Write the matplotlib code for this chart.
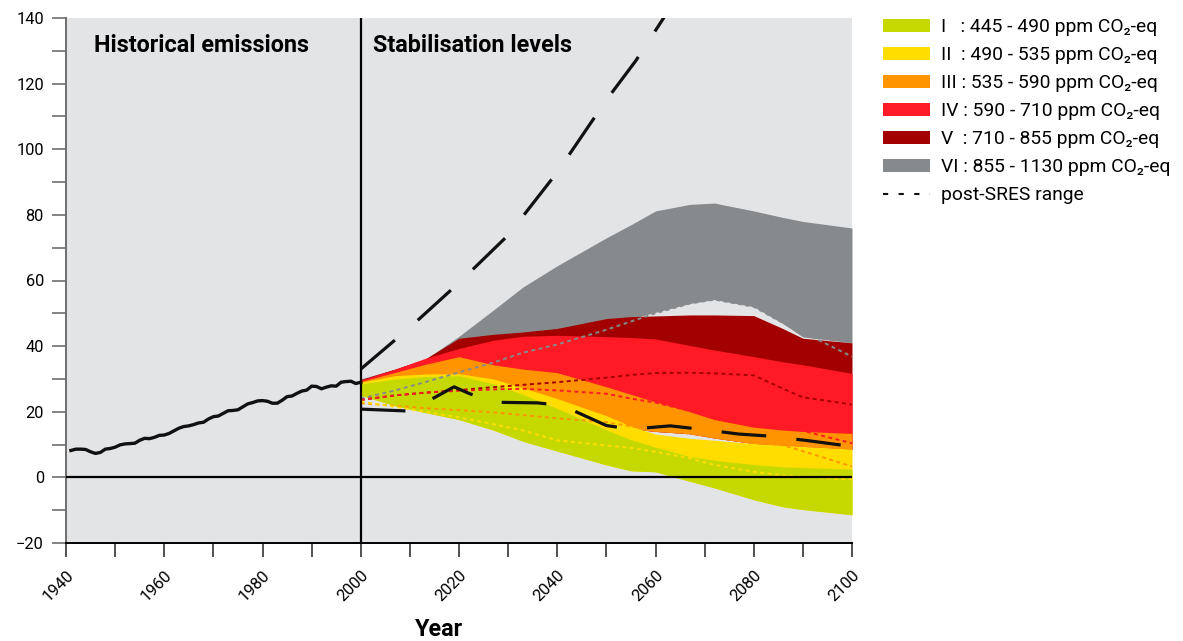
import numpy as np
import matplotlib
matplotlib.use('Agg')
import matplotlib.pyplot as plt
from matplotlib.patches import Patch
from matplotlib.lines import Line2D

plt.rcParams['font.family'] = ['Roboto', 'DejaVu Sans']

# historische emissies
hist_years = [1941, 1942, 1943, 1944, 1945, 1946, 1947, 1948, 1949, 1950,
              1951, 1952, 1953, 1954, 1955, 1956, 1957, 1958, 1959, 1960,
              1961, 1962, 1963, 1964, 1965, 1966, 1967, 1968, 1969, 1970,
              1971, 1972, 1973, 1974, 1975, 1976, 1977, 1978, 1979, 1980,
              1981, 1982, 1983, 1984, 1985, 1986, 1987, 1988, 1989, 1990,
              1991, 1992, 1993, 1994, 1995, 1996, 1997, 1998, 1999, 2000]
hist_vals = [8.2, 8.6, 8.6, 8.5, 7.8, 7.3, 7.6, 8.6, 8.8, 9.2,
             9.9, 10.2, 10.3, 10.4, 11.3, 11.9, 11.8, 12.2, 12.8, 12.9,
             13.4, 14.2, 15.0, 15.5, 15.7, 16.1, 16.6, 16.8, 17.8, 18.5,
             18.7, 19.5, 20.3, 20.4, 20.6, 21.5, 22.4, 22.8, 23.3, 23.4,
             23.2, 22.6, 22.6, 23.5, 24.6, 24.8, 25.6, 26.3, 26.6, 27.8,
             27.7, 27.0, 27.5, 27.9, 27.8, 29.0, 29.2, 29.3, 28.6, 29.0]

# stabilisatieniveaus
years = [2000, 2007, 2013, 2020, 2027, 2033, 2040, 2050, 2055, 2060,
         2067, 2072, 2080, 2086, 2090, 2100]

vi_hi = [30.0, 33.0, 35.8, 43.0, 51.0, 58.0, 64.5, 73.0, 77.0, 81.2,
         83.2, 83.6, 81.2, 79.2, 78.0, 76.0]
vi_lo = [29.0, 31.0, 34.0, 38.0, 40.0, 42.0, 44.0, 47.0, 48.3, 50.3,
         53.0, 54.2, 52.0, 46.8, 42.8, 41.0]
v_hi = [29.8, 33.0, 36.0, 42.4, 43.6, 44.3, 45.4, 48.4, 49.0, 49.2,
        49.5, 49.5, 49.3, 45.3, 42.4, 41.0]
v_lo = [27.5, 27.5, 27.0, 26.0, 25.0, 24.0, 21.0, 17.0, 14.8, 14.0,
        13.3, 12.0, 10.3, 9.8, 9.4, 8.6]
iv_hi = [29.7, 33.0, 36.2, 39.3, 41.8, 43.0, 43.3, 42.9, 42.6, 42.2,
         40.2, 38.8, 36.8, 35.2, 34.3, 31.7]
iv_lo = [27.5, 27.5, 27.0, 26.0, 25.0, 24.0, 21.0, 17.0, 14.8, 14.0,
         13.3, 12.0, 10.3, 9.8, 9.4, 8.6]
iii_hi = [29.2, 32.0, 34.4, 36.8, 34.3, 33.0, 31.9, 27.6, 25.3, 23.0,
          20.0, 17.6, 15.3, 14.4, 14.0, 13.4]
iii_lo = [27.5, 27.5, 27.0, 26.0, 25.0, 24.0, 21.0, 17.0, 14.8, 14.0,
          13.3, 12.0, 10.3, 9.8, 9.4, 8.6]
ii_hi = [29.0, 31.0, 31.5, 31.6, 30.0, 27.3, 24.0, 18.8, 15.6, 13.2,
         11.9, 11.3, 10.3, 9.8, 9.4, 8.6]
ii_lo = [25.0, 21.8, 19.8, 17.6, 14.4, 11.0, 8.0, 3.8, 2.0, 1.7,
         -1.2, -3.2, -6.8, -9.0, -9.8, -11.4]
i_hi = [28.5, 30.0, 30.7, 31.0, 28.5, 25.3, 21.0, 14.5, 11.5, 9.2,
        6.3, 5.2, 3.9, 3.2, 3.0, 2.5]
i_lo = [25.0, 21.8, 19.8, 17.6, 14.4, 11.0, 8.0, 3.8, 2.0, 1.7,
        -1.2, -3.2, -6.8, -9.0, -9.8, -11.4]

# mediaanlijnen (gestippeld)
vi_med = [24.0, 26.5, 29.0, 32.0, 35.0, 38.0, 40.5, 45.0, 47.5, 50.0,
          53.0, 54.2, 52.0, 47.0, 44.2, 36.8]
v_med = [23.6, 25.0, 25.8, 26.6, 27.5, 28.2, 29.0, 30.4, 31.2, 31.8,
         31.9, 31.7, 31.1, 27.0, 24.4, 22.2]
iv_med = [23.6, 25.0, 25.8, 26.4, 26.8, 27.0, 26.5, 25.5, 24.0, 22.8,
          20.3, 18.0, 16.0, 15.2, 14.2, 10.4]
iii_med = [22.6, 21.8, 21.1, 20.5, 19.8, 19.0, 18.0, 16.8, 15.6, 14.6,
           13.3, 12.2, 10.5, 9.8, 8.0, 3.3]
ii_med = [23.1, 21.5, 20.0, 18.3, 16.2, 14.3, 11.3, 9.7, 9.0, 7.8,
          5.8, 3.8, 1.7, 0.6, 0.2, -0.6]

# post-SRES bandbreedte
sres_hi_years = [2000, 2010, 2020, 2030, 2040, 2050, 2056, 2061, 2066]
sres_hi = [33.0, 45.7, 59.3, 73.8, 93.0, 115.0, 127.0, 138.5, 150.0]
sres_lo_years = [2000, 2010, 2019, 2022, 2027, 2036, 2041, 2050, 2055,
                 2063, 2069, 2077, 2083, 2091, 2100]
sres_lo = [20.8, 20.2, 27.6, 25.6, 22.9, 22.7, 21.9, 15.8, 14.7,
           15.7, 14.7, 13.2, 12.6, 11.2, 9.4]

labels = ['I   : 445 - 490 ppm CO\u2082-eq',
          'II  : 490 - 535 ppm CO\u2082-eq',
          'III : 535 - 590 ppm CO\u2082-eq',
          'IV : 590 - 710 ppm CO\u2082-eq',
          'V  : 710 - 855 ppm CO\u2082-eq',
          'VI : 855 - 1130 ppm CO\u2082-eq']
colors = ['#c5d900', '#ffdd00', '#ff9400', '#ff1a25', '#a30000', '#878a8c']

bands = [(i_lo, i_hi), (ii_lo, ii_hi), (iii_lo, iii_hi),
         (iv_lo, iv_hi), (v_lo, v_hi), (vi_lo, vi_hi)]
medians = [None, ii_med, iii_med, iv_med, v_med, vi_med]

fig = plt.figure(figsize=(11.83, 6.41), dpi=100)
ax = fig.add_axes([66 / 1183, 1 - 543 / 641, 786 / 1183, 525 / 641])
ax.set_facecolor('#e3e4e6')

# banden van VI naar I tekenen
for k in range(5, -1, -1):
    lo, hi = bands[k]
    ax.fill_between(years, lo, hi, color=colors[k], lw=0, zorder=2 + (5 - k))

for k in range(5, 0, -1):
    ax.plot(years, medians[k], color=colors[k], lw=1.4,
            linestyle=(0, (2, 1.8)), zorder=9)

dash = (14, 9.5)
ax.plot(sres_hi_years, sres_hi, color='#111111', lw=2.3, dashes=dash,
        zorder=10, solid_capstyle='butt')
ax.plot(sres_lo_years, sres_lo, color='#111111', lw=2.3, dashes=dash,
        zorder=10)

ax.plot(hist_years, hist_vals, color='#111111', lw=2.4, zorder=11)

ax.axvline(2000, color='black', lw=1.6, zorder=12)
ax.axhline(0, color='black', lw=1.6, zorder=12)

ax.set_xlim(1940, 2100)
ax.set_ylim(-20, 140)

ax.set_xticks(np.arange(1940, 2101, 10))
ax.set_xticklabels([str(y) if y % 20 == 0 else '' for y in range(1940, 2101, 10)],
                   rotation=45, ha='right', va='top', rotation_mode='anchor')
ax.set_yticks(np.arange(-20, 141, 20))
ax.set_yticks(np.arange(-10, 141, 20), minor=True)
ax.tick_params(axis='y', which='both', length=10, width=1.2, color='#6e6e6e',
               labelsize=11.8, pad=6)
ax.tick_params(axis='x', length=10, width=1.2, color='#333333',
               labelsize=11.8, pad=8)
for t in ax.yaxis.get_major_ticks():
    if t.get_loc() == 0:
        t.tick1line.set_color('black')

for s in ['top', 'right']:
    ax.spines[s].set_visible(False)
ax.spines['left'].set_color('#6e6e6e')
ax.spines['left'].set_linewidth(1.4)
ax.spines['bottom'].set_color('black')
ax.spines['bottom'].set_linewidth(1.4)

ax.text(1945.7, 131.7, 'Historical emissions', fontsize=16.8, fontweight='bold',
        va='center', ha='left', zorder=13)
ax.text(2002.5, 131.7, 'Stabilisation levels', fontsize=16.8, fontweight='bold',
        va='center', ha='left', zorder=13)

fig.text(439 / 1183, 1 - 630 / 641, 'Year', fontsize=16.8, fontweight='bold',
         ha='center', va='center')

handles = [Patch(facecolor=c, edgecolor='none') for c in colors]
handles.append(Line2D([], [], color='#111111', lw=1.5, linestyle=(0, (2.5, 5))))
fig.legend(handles, labels + ['post-SRES range'], loc='upper left',
           bbox_to_anchor=(883 / 1183, 1 - 18 / 641), frameon=False,
           fontsize=13.9, handlelength=2.45, handleheight=0.66,
           handletextpad=0.58, labelspacing=0.52, borderpad=0, borderaxespad=0)

fig.savefig('out.png', dpi=100)
